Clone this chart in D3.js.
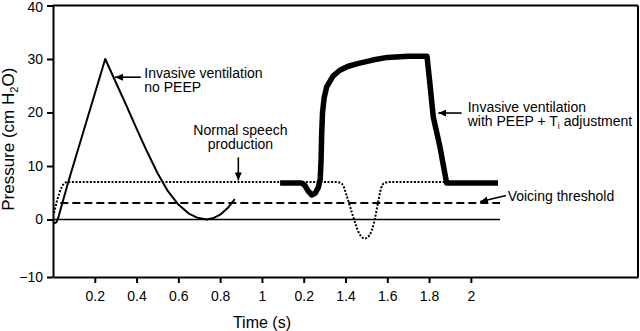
<!DOCTYPE html>
<html>
<head>
<meta charset="utf-8">
<script src="https://cdn.jsdelivr.net/npm/d3@7"></script>
<style>
  body { margin: 0; background: #fff; }
  text { font-family: "Liberation Sans", Arial, sans-serif; fill: #000; }
</style>
</head>
<body>
<div id="chart"></div>
<script>
// Tick values and labels (the reference prints "0.2" under 1.2)
const xTicks = [0.2, 0.4, 0.6, 0.8, 1, 1.2, 1.4, 1.6, 1.8, 2];
const xTickLabels = ["0.2", "0.4", "0.6", "0.8", "1", "0.2", "1.4", "1.6", "1.8", "2"];
const yTicks = [-10, 0, 10, 20, 30, 40];

// Pressure traces, [time (s), pressure (cm H2O)]
const noPeep = [[0, -0.4], [0.008, -0.6], [0.016, -0.5], [0.024, 0.2], [0.073, 7], [0.25, 30],
  [0.3, 25.7], [0.35, 21.4], [0.4, 17], [0.45, 12.7], [0.5, 8.7], [0.55, 5.3], [0.6, 2.8],
  [0.65, 1.1], [0.69, 0.35], [0.735, 0], [0.77, 0.3], [0.8, 0.9], [0.835, 2.1], [0.87, 3.8]];

const speech = [[0.005, 1.2], [0.02, 3.6], [0.04, 5.9], [0.055, 6.8], [0.07, 7], [1.36, 7],
  [1.385, 6.6], [1.405, 4.5], [1.425, 2], [1.45, -1], [1.47, -2.7], [1.493, -3.3], [1.515, -2.7],
  [1.535, -0.8], [1.555, 3], [1.57, 5.8], [1.585, 6.8], [1.61, 7], [2.13, 7]];

const peepTi = [[1.087, 6.8], [1.19, 6.8], [1.205, 6.4], [1.22, 5.4], [1.238, 4.6], [1.255, 4.9],
  [1.27, 6], [1.279, 7.5], [1.283, 11], [1.286, 16], [1.29, 20], [1.298, 22.8], [1.31, 24.8],
  [1.34, 26.8], [1.373, 27.9], [1.41, 28.6], [1.453, 29.1], [1.53, 29.8], [1.6, 30.3], [1.7, 30.5],
  [1.79, 30.5], [1.804, 25.4], [1.82, 19.2], [1.852, 13.6], [1.884, 6.8], [2.13, 6.8]];

const baseline = [[0, 0], [2.14, 0]];
const voicing = [[0.035, 3.1], [2.14, 3.1]];

// Setup
const width = 640;
const height = 331;

const svg = d3.select("#chart")
    .append("svg")
    .attr("width", width)
    .attr("height", height);

const x = d3.scaleLinear()
    .domain([0, 2.8])
    .range([53, 638]);

const y = d3.scaleLinear()
    .domain([-10, 0, 40])
    .range([277, 219.5, 5.5]);

const line = d3.line()
    .x(d => x(d[0]))
    .y(d => y(d[1]));

// Arrow head
svg.append("defs").append("marker")
    .attr("id", "head")
    .attr("markerUnits", "userSpaceOnUse")
    .attr("viewBox", "0 0 8 8")
    .attr("refX", 8)
    .attr("refY", 4)
    .attr("markerWidth", 8)
    .attr("markerHeight", 8)
    .attr("orient", "auto")
  .append("path")
    .attr("d", "M0,0.5L8,4L0,7.5Z")
    .attr("fill", "#000");

// Frame: top and right edges
svg.append("line")
    .attr("x1", x(0)).attr("x2", x(2.8))
    .attr("y1", y(40)).attr("y2", y(40))
    .attr("stroke", "#000").attr("stroke-width", 2);
svg.append("line")
    .attr("x1", x(2.8)).attr("x2", x(2.8))
    .attr("y1", y(40)).attr("y2", y(-10))
    .attr("stroke", "#000").attr("stroke-width", 2);

// Axes
const xAxis = svg.append("g")
    .attr("transform", `translate(0,${y(-10)})`)
    .call(d3.axisBottom(x)
        .tickValues(xTicks)
        .tickFormat((d, i) => xTickLabels[i])
        .tickSize(6)
        .tickSizeOuter(0)
        .tickPadding(8));

const yAxis = svg.append("g")
    .attr("transform", `translate(${x(0)},0)`)
    .call(d3.axisLeft(y)
        .tickValues(yTicks)
        .tickSize(6)
        .tickSizeOuter(0)
        .tickPadding(4));

[xAxis, yAxis].forEach(g => {
  g.select(".domain").attr("stroke-width", 2);
  g.selectAll(".tick line").attr("stroke-width", 2);
  g.selectAll(".tick text")
      .attr("font-size", 14)
      .attr("font-family", "Liberation Sans, Arial, sans-serif")
      .attr("fill", "#111");
});

// keep the top label inside the page
yAxis.selectAll(".tick text").filter(d => d === 40).attr("dy", "0.42em");

svg.append("text")
    .attr("x", x(1))
    .attr("y", 328)
    .attr("text-anchor", "middle")
    .attr("font-size", 16)
    .text("Time (s)");

const yTitle = svg.append("text")
    .attr("transform", `translate(14,${y(15)}) rotate(-90)`)
    .attr("text-anchor", "middle")
    .attr("font-size", 17);
yTitle.append("tspan").text("Pressure (cm H");
yTitle.append("tspan").attr("font-size", 11).attr("dy", 4).text("2");
yTitle.append("tspan").attr("dy", -4).text("O)");

// Reference lines
svg.append("path")
    .attr("d", line(baseline))
    .attr("fill", "none")
    .attr("stroke", "#000")
    .attr("stroke-width", 1.5);

svg.append("path")
    .attr("d", line(voicing))
    .attr("fill", "none")
    .attr("stroke", "#000")
    .attr("stroke-width", 2)
    .attr("stroke-dasharray", "8,4");

// Traces
svg.append("path")
    .attr("d", line.curve(d3.curveMonotoneX)(speech))
    .attr("fill", "none")
    .attr("stroke", "#000")
    .attr("stroke-width", 2)
    .attr("stroke-dasharray", "2,1.6");

svg.append("path")
    .attr("d", line.curve(d3.curveLinear)(noPeep))
    .attr("fill", "none")
    .attr("stroke", "#000")
    .attr("stroke-width", 2)
    .attr("stroke-linejoin", "round");

svg.append("path")
    .attr("d", line(peepTi))
    .attr("fill", "none")
    .attr("stroke", "#000")
    .attr("stroke-width", 5.5)
    .attr("stroke-linejoin", "round");

// Annotations, placed in data units
const notes = [
  { lines: ["Invasive ventilation", "no PEEP"], at: [0.437, 26.5], anchor: "start",
    arrow: [[0.42, 26.6], [0.297, 26.6]] },
  { lines: ["Normal speech", "production"], at: [0.897, 15.8], anchor: "middle",
    arrow: [[0.887, 11.6], [0.887, 7.3]] },
  { lines: ["Invasive ventilation", "with PEEP + T|i| adjustment"], at: [1.985, 20.1], anchor: "start",
    arrow: [[1.956, 19.9], [1.844, 19.9]] },
  { lines: ["Voicing threshold"], at: [2.176, 3.4], anchor: "start",
    arrow: [[2.168, 4.5], [2.044, 3.3]] }
];

notes.forEach(n => {
  const t = svg.append("text")
      .attr("x", x(n.at[0]))
      .attr("y", y(n.at[1]))
      .attr("text-anchor", n.anchor)
      .attr("font-size", 14);
  n.lines.forEach((s, i) => {
    const parts = s.split("|");
    t.append("tspan")
        .attr("x", x(n.at[0]))
        .attr("dy", i === 0 ? 0 : 14.5)
        .text(parts[0]);
    if (parts.length > 1) {
      t.append("tspan").attr("font-size", 9).attr("dy", 3).text(parts[1]);
      t.append("tspan").attr("dy", -3).text(parts[2]);
    }
  });
  svg.append("path")
      .attr("d", d3.line().x(d => x(d[0])).y(d => y(d[1]))(n.arrow))
      .attr("stroke", "#000")
      .attr("stroke-width", 1.6)
      .attr("marker-end", "url(#head)");
});
</script>
</body>
</html>
